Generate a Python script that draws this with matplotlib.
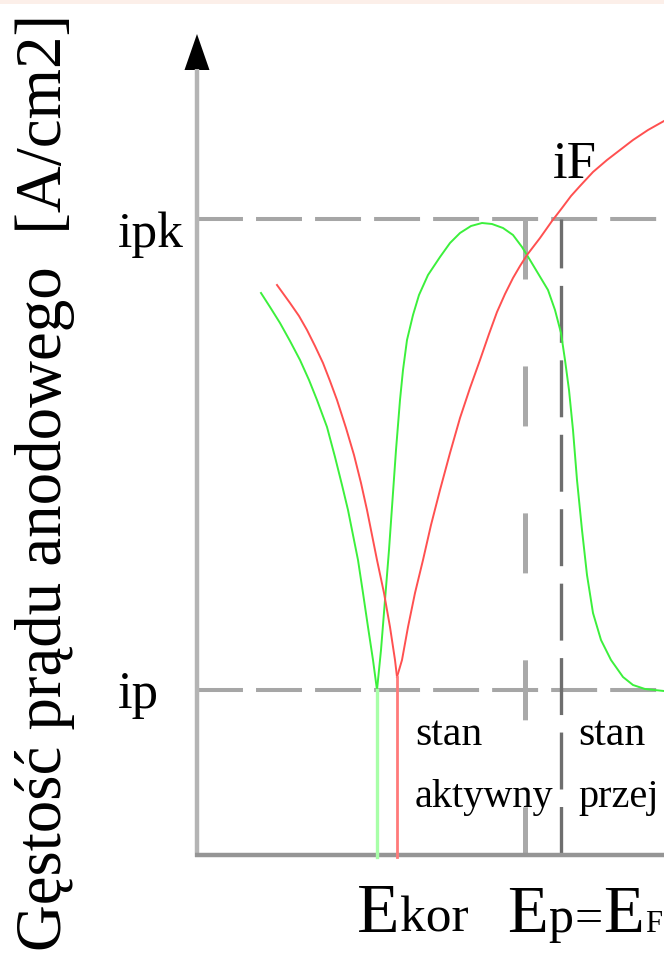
import numpy as np
import matplotlib
matplotlib.use("Agg")
import matplotlib.pyplot as plt
from matplotlib.patches import Rectangle

plt.rcParams['font.family'] = ['Liberation Serif', 'DejaVu Serif']
plt.rcParams['lines.scale_dashes'] = False

# schematic anodic polarisation curve, units = distance from the axis origin
# green curve (passivating metal)
green_left_E = [64, 73, 83, 93, 103, 112, 120, 130, 138, 145, 151, 156, 161, 166, 171, 176, 180]
green_left_i = [562, 548, 532, 514, 495, 475, 455, 428, 398, 370, 345, 320, 295, 262, 228, 195, 165]
green_right_E = [180, 184, 188, 192, 195.5, 199, 203, 206, 210, 216, 222, 231, 243, 253,
                 263, 274, 285, 295, 306, 316, 325, 333, 342, 351, 358, 364, 368, 372,
                 376, 380, 385, 390, 396, 404, 414, 426, 436, 448, 467]
green_right_i = [165, 205, 255, 305, 355, 405, 455, 485, 515, 540, 560, 580, 598, 612,
                 622, 629, 632, 631, 627, 620, 608, 595, 580, 565, 545, 522, 495, 465,
                 425, 375, 325, 280, 242, 215, 195, 178, 170, 166, 164]
# red curve
red_left_E = [80, 93, 102, 110, 118, 126, 133, 140, 149, 157, 164, 170, 175, 180, 187, 193, 198, 200]
red_left_i = [570, 552, 539, 525, 509, 492, 474, 455, 427, 400, 372, 345, 320, 295, 262, 228, 195, 178]
red_right_E = [200, 205, 211, 218, 226, 234, 243, 253, 263, 273, 283, 292, 300, 308,
               316, 323, 330, 343, 355, 365, 374, 383, 396, 410, 423, 436, 451, 467]
red_right_i = [178, 195, 228, 262, 295, 330, 365, 402, 437, 467, 495, 521, 543, 561,
               577, 589, 600, 617, 634, 647, 659, 669, 683, 695, 705, 715, 725, 734]

E_kor_green = 180
E_kor_red = 200
E_p = 328
E_F = 364
i_pk = 636
i_p = 165
E_max = 467
i_top = 786

fig = plt.figure(figsize=(6.64, 9.59), dpi=100)
ax = fig.add_axes([0, 0, 1, 1])
ax.set_xlim(-197, 467)
ax.set_ylim(-104, 855)
ax.axis('off')

# faint strip at the very top
fig.add_artist(Rectangle((0, 1 - 4 / 959), 1, 4 / 959, transform=fig.transFigure,
                         color='#fcefe9', lw=0))

# dashed guide lines
ax.plot([0, E_max], [i_pk, i_pk], color='#a6a6a6', lw=2.9, ls=(0, (33.1, 9.4)))
ax.plot([0, E_max], [i_p, i_p], color='#a6a6a6', lw=2.9, ls=(0, (33.1, 9.4)))
ax.plot([E_p, E_p], [i_pk, 0], color='#a9a9a9', lw=3.6, ls=(0, (43.2, 62.6)))
ax.plot([E_F, E_F], [i_pk, 0], color='#6e6e6e', lw=2.4, ls=(5.8, (41.0, 12.6)))

# axes with arrow
ax.plot([0, 0], [-2, i_top], color='#b4b4b4', lw=3.2, solid_capstyle='butt')
ax.plot([-2, E_max], [0, 0], color='#959595', lw=3.2, solid_capstyle='butt')
ax.fill([-12.5, 12.5, 0], [i_top - 1, i_top - 1, 821], color='black', lw=0)

# curves
kw = dict(lw=1.4, solid_joinstyle='round')
ax.plot(green_left_E, green_left_i, color='#3cf03c', **kw)
ax.plot(green_right_E, green_right_i, color='#3cf03c', **kw)
ax.plot([E_kor_green, E_kor_green], [i_p, -2], color='#a8ffa8', lw=2.4)
ax.plot(red_left_E, red_left_i, color='#ff5050', **kw)
ax.plot(red_right_E, red_right_i, color='#ff5050', **kw)
ax.plot([E_kor_red, E_kor_red], [red_left_i[-1], -2], color='#ff7a7a', lw=2.0)

# labels
ax.text(-152, 373, 'Gęstość prądu anodowego  [A/cm2]', rotation=90, fontsize=46.7,
        ha='center', va='center')
ax.text(-79, 608, 'ipk', fontsize=37, ha='left', va='baseline')
ax.text(-79, 147, 'ip', fontsize=38, ha='left', va='baseline')
ax.text(356, 677, 'iF', fontsize=38, ha='left', va='baseline')

ax.text(218, 110, 'stan', fontsize=30, ha='left', va='baseline')
ax.text(218, 48, 'aktywny', fontsize=29, ha='left', va='baseline')
ax.text(381, 110, 'stan', fontsize=30, ha='left', va='baseline')
ax.text(381, 48, 'przej', fontsize=29, ha='left', va='baseline')

ax.text(160, -77, 'E', fontsize=50, ha='left', va='baseline')
ax.text(203, -77, 'kor', fontsize=37, ha='left', va='baseline')
ax.text(310, -77, 'E', fontsize=48, ha='left', va='baseline')
ax.text(351.5, -77, 'p', fontsize=36, ha='left', va='baseline')
ax.text(377.5, -77, '=', fontsize=36, ha='left', va='baseline')
ax.text(406.5, -77, 'E', fontsize=48, ha='left', va='baseline')
ax.text(448, -77, 'F', fontsize=22, ha='left', va='baseline')

fig.savefig('out.png', dpi=100)
